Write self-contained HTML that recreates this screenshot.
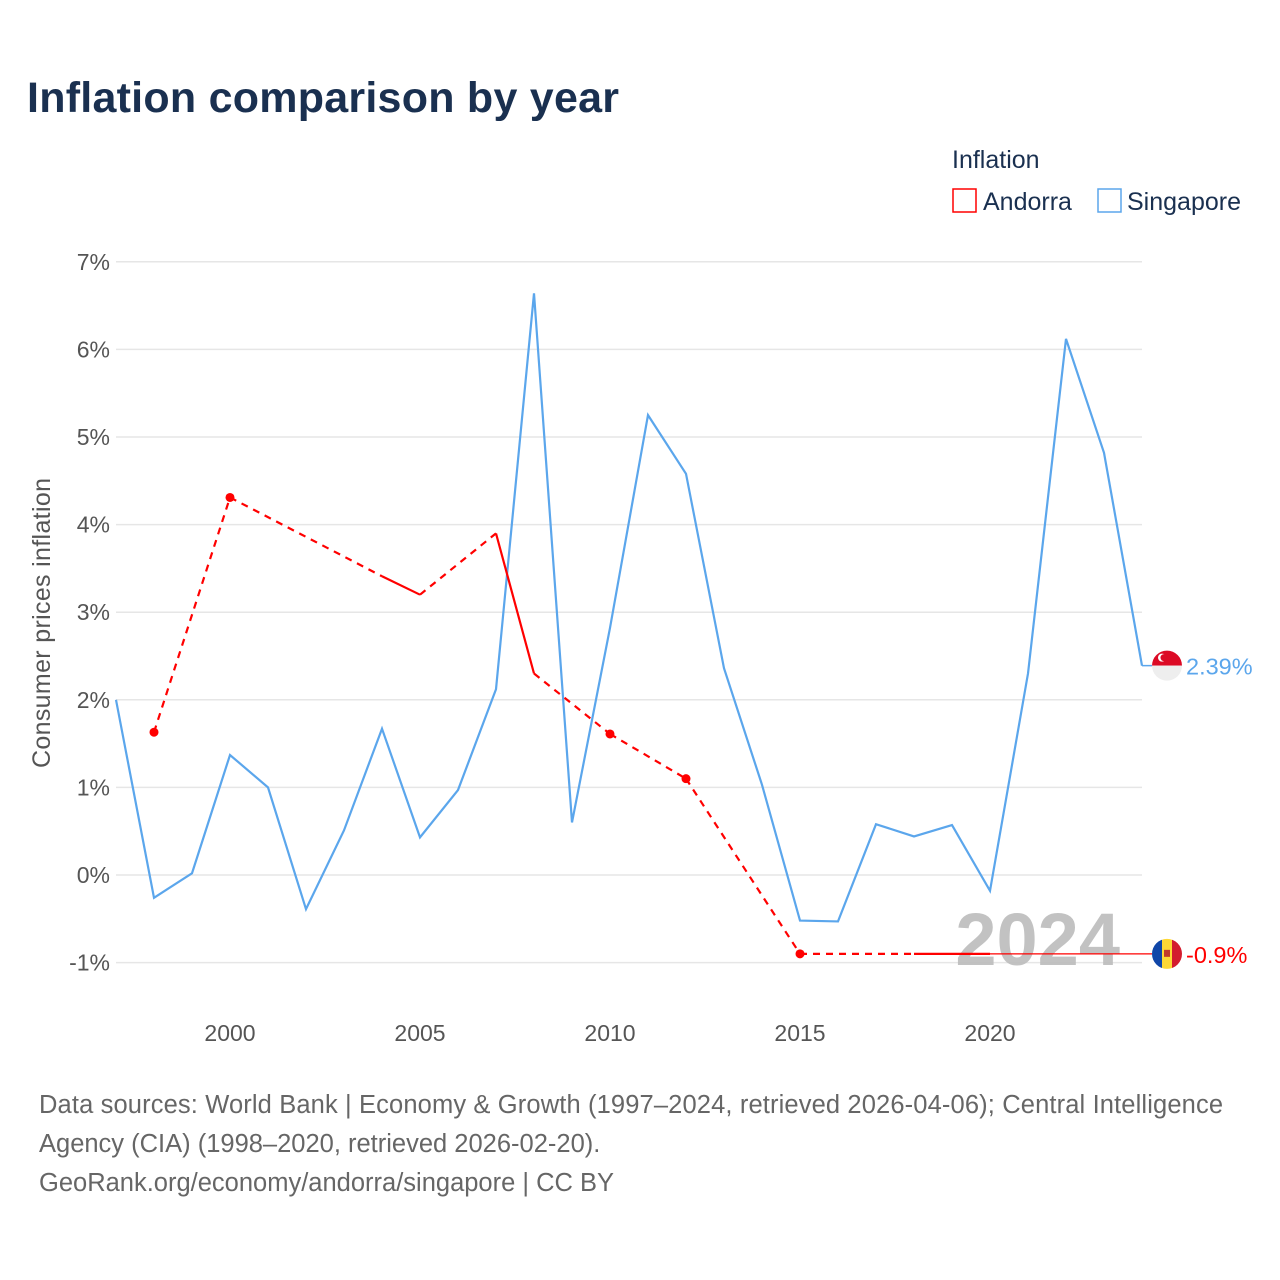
<!DOCTYPE html>
<html><head><meta charset="utf-8"><style>
body{margin:0;background:#fff;font-family:"Liberation Sans",sans-serif}
#wrap{position:relative;width:1280px;height:1280px}
</style></head><body><div id="wrap">
<svg id="svg" width="1280" height="1280" style="position:absolute;left:0;top:0">
<text x="27" y="112" font-size="43" font-weight="bold" fill="#1a3050" textLength="592">Inflation comparison by year</text>
<text x="952" y="168" font-size="25" fill="#1a3050">Inflation</text>
<g><rect x="953" y="189" width="23" height="23" fill="none" stroke="#ff0000" stroke-width="1.5"/><text x="983" y="210" font-size="25" fill="#1a3050">Andorra</text></g>
<g><rect x="1098" y="189" width="23" height="23" fill="none" stroke="#5ba6ec" stroke-width="1.5"/><text x="1127" y="210" font-size="25" fill="#1a3050">Singapore</text></g>
<text transform="translate(50,623) rotate(-90)" text-anchor="middle" font-size="25" fill="#555" textLength="290">Consumer prices inflation</text>
<g id="grid"></g><g id="yt"></g><g id="xt"></g>
<text x="1120" y="965" text-anchor="end" font-size="74" font-weight="bold" fill="#bbb" fill-opacity="0.9">2024</text>
<g id="series"></g>
<g font-size="25.5" fill="#666">
<text x="39" y="1113" textLength="1184">Data sources: World Bank | Economy &amp; Growth (1997–2024, retrieved 2026-04-06); Central Intelligence</text>
<text x="39" y="1152">Agency (CIA) (1998–2020, retrieved 2026-02-20).</text>
<text x="39" y="1191">GeoRank.org/economy/andorra/singapore | CC BY</text>
</g>
</svg></div>
<script>
const yTicks=[-1,0,1,2,3,4,5,6,7];
const xTicks=[2000,2005,2010,2015,2020];
const sgYears=[1997,1998,1999,2000,2001,2002,2003,2004,2005,2006,2007,2008,2009,2010,2011,2012,2013,2014,2015,2016,2017,2018,2019,2020,2021,2022,2023,2024];
const sgValues=[2.0,-0.26,0.02,1.37,1.0,-0.39,0.51,1.67,0.43,0.97,2.12,6.64,0.6,2.82,5.25,4.58,2.36,1.03,-0.52,-0.53,0.58,0.44,0.57,-0.18,2.3,6.12,4.82,2.39];
const adYears=[1998,2000,2004,2005,2007,2008,2010,2012,2015,2018,2019,2020];
const adValues=[1.63,4.31,3.41,3.2,3.9,2.3,1.61,1.1,-0.9,-0.9,-0.9,-0.9];
const NS='http://www.w3.org/2000/svg';
const X=y=>116+(y-1997)*38, Y=v=>875-v*87.6;
function mk(t,a,p){const e=document.createElementNS(NS,t);for(const k in a)e.setAttribute(k,a[k]);document.getElementById(p).appendChild(e);return e;}
yTicks.forEach(v=>{
 const g=mk('line',{x1:116,x2:1142,y1:Y(v),y2:Y(v),stroke:'#e6e6e6','stroke-width':1.5},'grid');
 
 
 const t=mk('text',{x:110,y:Y(v)+8,'text-anchor':'end','font-size':23,fill:'#555'},'yt');t.textContent=v+'%';
 
 
});
xTicks.forEach(v=>{
 const t=mk('text',{x:X(v),y:1041,'text-anchor':'middle','font-size':23,fill:'#555'},'xt');t.textContent=v;
 
 
});
const sp=mk('polyline',{points:sgYears.map((y,i)=>X(y)+','+Y(sgValues[i])).join(' '),fill:'none',stroke:'#5ba6ec','stroke-width':2.2},'series');


for(let i=0;i<adYears.length-1;i++){
 const consec=adYears[i+1]-adYears[i]===1;
 const l=mk('line',{x1:X(adYears[i]),y1:Y(adValues[i]),x2:X(adYears[i+1]),y2:Y(adValues[i+1]),stroke:'#ff0000','stroke-width':2.2,'stroke-dasharray':consec?'none':'7,6'},'series');
 
 
}
adYears.forEach((y,i)=>{
 const prev=i>0&&adYears[i-1]===y-1, next=i<adYears.length-1&&adYears[i+1]===y+1;
 if(!prev&&!next){const c=mk('circle',{cx:X(y),cy:Y(adValues[i]),r:4.5,fill:'#ff0000'},'series');
 
 }
});
const lastA=adValues[adValues.length-1], lastS=sgValues[sgValues.length-1];
const ex=mk('line',{x1:X(adYears[adYears.length-1]),y1:Y(lastA),x2:1152,y2:Y(lastA),stroke:'#ff0000','stroke-width':1.2},'series');


const ex2=mk('line',{x1:1142,y1:Y(lastS),x2:1152,y2:Y(lastS),stroke:'#5ba6ec','stroke-width':1.5},'series');


const s=document.getElementById('series');
s.insertAdjacentHTML('beforeend',`<g><clipPath id="c1"><circle cx="1167" cy="${Y(lastS)}" r="15"/></clipPath><g clip-path="url(#c1)"><rect x="1150" y="${Y(lastS)-16}" width="34" height="16" fill="#dc0a25"/><rect x="1150" y="${Y(lastS)}" width="34" height="16" fill="#eee"/></g><circle cx="1162" cy="${Y(lastS)-8}" r="4" fill="#fff"/><circle cx="1164" cy="${Y(lastS)-8}" r="3.5" fill="#dc0a25"/></g>
<g><clipPath id="c2"><circle cx="1167" cy="${Y(lastA)}" r="15"/></clipPath><g clip-path="url(#c2)"><rect x="1150" y="${Y(lastA)-16}" width="12" height="32" fill="#1046a8"/><rect x="1162" y="${Y(lastA)-16}" width="10" height="32" fill="#fdd835"/><rect x="1172" y="${Y(lastA)-16}" width="12" height="32" fill="#d31c2e"/></g><rect x="1164" y="${Y(lastA)-4}" width="6" height="7" fill="#c0392b"/></g>
<text x="1186" y="${Y(lastS)+9}" font-size="23.5" fill="#5ba6ec">${lastS}%</text>
<text x="1186" y="${Y(lastA)+9}" font-size="23.5" fill="#ff0000">${lastA}%</text>`);
</script></body></html>
